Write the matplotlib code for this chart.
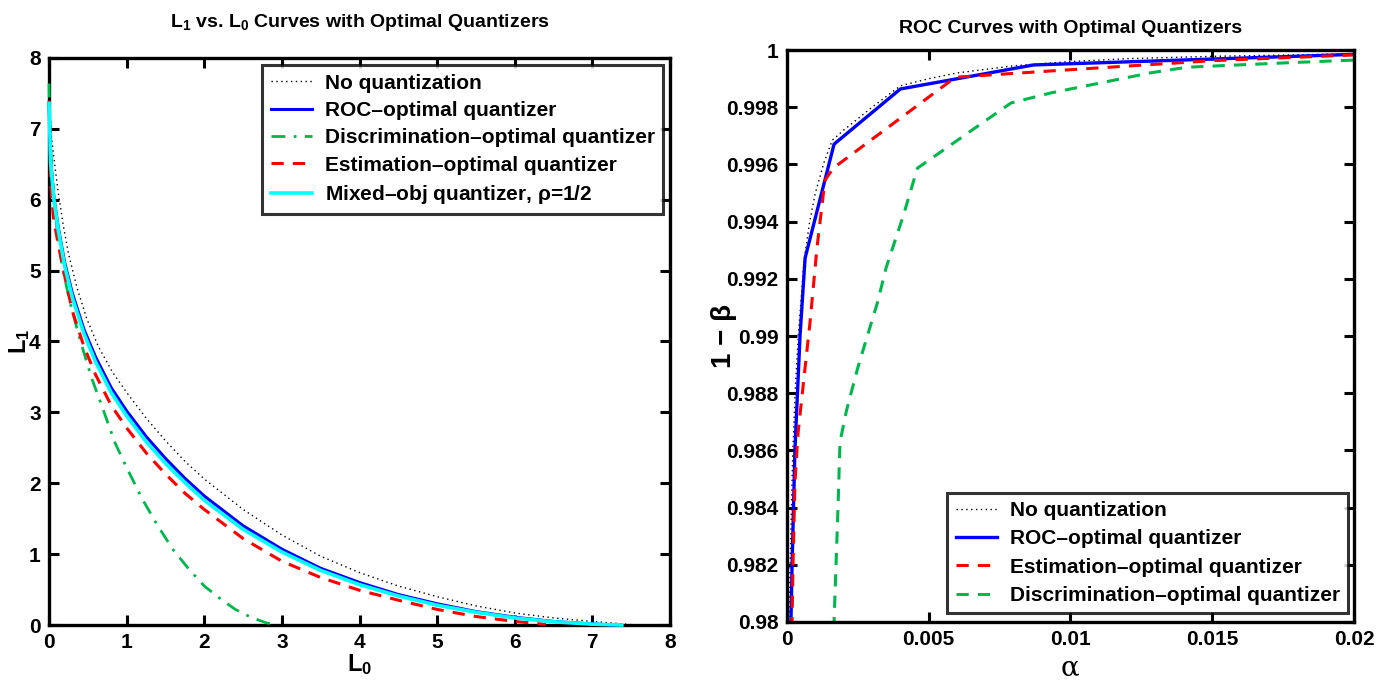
import matplotlib
matplotlib.use("Agg")
import matplotlib.pyplot as plt
from matplotlib import font_manager

# ---------------- data: left panel (L1 vs L0) ----------------
noq_L0 = [0, 0.03, 0.077, 0.12, 0.18, 0.25, 0.357, 0.486, 0.635, 0.81, 1.0, 1.25, 1.5, 1.75,
          2.0, 2.5, 3.0, 3.5, 4.0, 4.5, 5.0, 5.5, 6.0, 6.5, 7.0, 7.3, 7.55]
noq_L1 = [7.45, 6.89, 6.46, 6.09, 5.66, 5.24, 4.77, 4.32, 3.93, 3.58, 3.28, 2.92, 2.60, 2.31,
          2.06, 1.63, 1.27, 0.97, 0.74, 0.55, 0.40, 0.27, 0.17, 0.10, 0.05, 0.025, 0.0]

roc_L0 = [0, 0.02, 0.06, 0.12, 0.2, 0.3, 0.45, 0.6, 0.8, 1.0, 1.25, 1.5, 1.75, 2.0,
          2.5, 3.0, 3.5, 4.0, 4.5, 5.0, 5.5, 6.0, 6.5, 7.0, 7.3]
roc_L1 = [7.36, 6.55, 6.05, 5.60, 5.12, 4.68, 4.17, 3.78, 3.35, 3.02, 2.66, 2.35, 2.07, 1.82,
          1.40, 1.07, 0.80, 0.60, 0.43, 0.30, 0.19, 0.11, 0.05, 0.015, 0.0]

disc_L0 = [0, 0.01, 0.04, 0.1, 0.17, 0.27, 0.4, 0.55, 0.7, 0.85, 1.0, 1.2, 1.4, 1.6,
           1.8, 2.0, 2.2, 2.4, 2.6, 2.8, 2.94]
disc_L1 = [7.64, 7.0, 6.37, 5.60, 5.05, 4.55, 4.02, 3.48, 3.03, 2.57, 2.22, 1.78, 1.40, 1.06,
           0.79, 0.55, 0.376, 0.22, 0.11, 0.03, 0.0]

est_L0 = [0, 0.02, 0.06, 0.12, 0.2, 0.3, 0.45, 0.6, 0.8, 1.0, 1.25, 1.5, 1.75, 2.0,
          2.5, 3.0, 3.5, 4.0, 4.5, 5.0, 5.5, 6.0, 6.4]
est_L1 = [7.4, 6.2, 5.72, 5.36, 4.93, 4.43, 3.93, 3.53, 3.10, 2.78, 2.43, 2.13, 1.86, 1.63,
          1.22, 0.90, 0.67, 0.49, 0.35, 0.22, 0.12, 0.05, 0.01]

mix_L0 = [0, 0.02, 0.06, 0.12, 0.2, 0.3, 0.45, 0.6, 0.8, 1.0, 1.25, 1.5, 1.75, 2.0,
          2.5, 3.0, 3.5, 4.0, 4.5, 5.0, 5.5, 6.0, 6.5, 7.0, 7.38]
mix_L1 = [7.36, 6.53, 6.02, 5.56, 5.07, 4.62, 4.11, 3.71, 3.28, 2.95, 2.59, 2.28, 2.01, 1.76,
          1.35, 1.03, 0.77, 0.57, 0.41, 0.28, 0.18, 0.10, 0.045, 0.012, 0.0]

# ---------------- data: right panel (ROC) ----------------
noq_alpha = [0.00007, 0.0001, 0.0002, 0.0003, 0.0004, 0.0006, 0.0008, 0.001, 0.0013, 0.0016, 0.002,
             0.0025, 0.003, 0.004, 0.005, 0.006, 0.008, 0.01, 0.012, 0.015, 0.02]
noq_pd = [0.9800, 0.9815, 0.9858, 0.9883, 0.9900, 0.9926, 0.9940, 0.9950, 0.99605, 0.99685, 0.9972,
          0.9976, 0.9980, 0.99875, 0.9990, 0.9992, 0.99945, 0.9996, 0.9997, 0.99978, 0.99987]

roc_alpha = [0.00012, 0.00018, 0.00028, 0.00046, 0.00064, 0.00166, 0.0040, 0.0087, 0.02]
roc_pd = [0.979, 0.982, 0.986, 0.990, 0.99273, 0.99671, 0.99864, 0.99948, 0.99985]

est_alpha = [0.00017, 0.00018, 0.00021, 0.00028, 0.00039, 0.00064, 0.00081, 0.00106, 0.00134,
             0.00163, 0.00594, 0.0093, 0.015, 0.02]
est_pd = [0.979, 0.980, 0.9819, 0.98485, 0.9866, 0.98891, 0.99045, 0.9931, 0.99545,
          0.99587, 0.99905, 0.99927, 0.99963, 0.99983]

disc_alpha = [0.00164, 0.00166, 0.0018, 0.00187, 0.0021, 0.0025, 0.0032, 0.0035, 0.0041, 0.0046,
              0.0079, 0.0093, 0.0128, 0.0141, 0.0175, 0.02]
disc_pd = [0.979, 0.980, 0.984, 0.9863, 0.9874, 0.9889, 0.9912, 0.9924, 0.9942, 0.99587,
           0.99815, 0.9985, 0.9992, 0.9994, 0.99955, 0.99965]

left_ticks = [0, 1, 2, 3, 4, 5, 6, 7, 8]
roc_xticks = [0, 0.005, 0.01, 0.015, 0.02]
roc_xticklabels = ["0", "0.005", "0.01", "0.015", "0.02"]
roc_yticks = [0.98, 0.982, 0.984, 0.986, 0.988, 0.99, 0.992, 0.994, 0.996, 0.998, 1.0]
roc_yticklabels = ["0.98", "0.982", "0.984", "0.986", "0.988", "0.99", "0.992", "0.994",
                   "0.996", "0.998", "1"]

# ---------------- fonts ----------------
names = {f.name for f in font_manager.fontManager.ttflist}
fam = "Liberation Sans Narrow" if "Liberation Sans Narrow" in names else "Liberation Sans"
plt.rcParams["font.family"] = [fam, "DejaVu Sans"]
plt.rcParams["font.weight"] = "bold"
plt.rcParams["mathtext.fontset"] = "custom"
plt.rcParams["mathtext.rm"] = fam + ":bold"
plt.rcParams["mathtext.it"] = fam + ":bold"
plt.rcParams["mathtext.bf"] = fam + ":bold"
plt.rcParams["mathtext.default"] = "rm"

BLUE = (0, 0, 1)
RED = (1, 0, 0)
GREEN = (0, 0.72, 0.3)
CYAN = (0, 1, 1)

fig = plt.figure(figsize=(13.78, 6.86), dpi=100)
ax1 = fig.add_axes([0.0356, 0.0889, 0.4506, 0.8266])
ax2 = fig.add_axes([0.5711, 0.0933, 0.4115, 0.8337])


def style_axes(ax):
    for s in ax.spines.values():
        s.set_linewidth(2.4)
    ax.tick_params(direction="in", length=7, width=2.2, top=True, right=True,
                   labelsize=15, pad=6)
    for lab in ax.get_xticklabels() + ax.get_yticklabels():
        lab.set_fontweight("bold")


def style_legend(leg):
    leg.get_frame().set_edgecolor("black")
    leg.get_frame().set_linewidth(2.2)
    for t in leg.get_texts():
        t.set_fontweight("bold")


# ---------------- left panel ----------------
kw = dict(zorder=3, clip_on=False)
ax1.plot(noq_L0, noq_L1, color="black", lw=1.0, ls=(0, (1, 2.5)), label="No quantization", **kw)
ax1.plot(roc_L0, roc_L1, color=BLUE, lw=2.2, label="ROC\u2013optimal quantizer", **kw)
ax1.plot(disc_L0, disc_L1, color=GREEN, lw=2.0, ls=(0, (5, 3, 1, 3)),
         label="Discrimination\u2013optimal quantizer", **kw)
ax1.plot(est_L0, est_L1, color=RED, lw=2.2, ls=(0, (4, 3)), label="Estimation\u2013optimal quantizer", **kw)
ax1.plot(mix_L0, mix_L1, color=CYAN, lw=2.6, label="Mixed\u2013obj quantizer, $\\rho$=1/2", **kw)
ax1.set_xlim(0, 8)
ax1.set_ylim(0, 8)
ax1.set_xticks(left_ticks)
ax1.set_yticks(left_ticks)
style_axes(ax1)
ax1.set_title("L$_1$ vs. L$_0$ Curves with Optimal Quantizers", fontsize=14, fontweight="bold", pad=22)
ax1.set_xlabel("L$_0$", fontsize=17, fontweight="bold", labelpad=0)
ax1.set_ylabel("L$_1$", fontsize=17, fontweight="bold", labelpad=-2)
leg1 = ax1.legend(loc="upper right", bbox_to_anchor=(0.989, 0.987), fontsize=15,
                  frameon=True, fancybox=False, handlelength=2.0, borderpad=0.4,
                  labelspacing=0.4, handletextpad=0.6, borderaxespad=0.0)
style_legend(leg1)

# ---------------- right panel ----------------
ax2.plot(noq_alpha, noq_pd, color="black", lw=1.0, ls=(0, (1, 2.5)), label="No quantization")
ax2.plot(roc_alpha, roc_pd, color=BLUE, lw=2.4, label="ROC\u2013optimal quantizer")
ax2.plot(est_alpha, est_pd, color=RED, lw=2.2, ls=(0, (4, 3)), label="Estimation\u2013optimal quantizer")
ax2.plot(disc_alpha, disc_pd, color=GREEN, lw=2.2, ls=(0, (4, 3)),
         label="Discrimination\u2013optimal quantizer")
ax2.set_xlim(0, 0.02)
ax2.set_ylim(0.98, 1.0)
ax2.set_xticks(roc_xticks)
ax2.set_xticklabels(roc_xticklabels)
ax2.set_yticks(roc_yticks)
ax2.set_yticklabels(roc_yticklabels)
style_axes(ax2)
ax2.set_title("ROC Curves with Optimal Quantizers", fontsize=14, fontweight="bold", pad=12)
ax2.set_xlabel("\u03b1", fontsize=20, fontweight="normal", family="DejaVu Serif", labelpad=4)
ax2.set_ylabel("1 \u2212 \u03b2", fontsize=20, fontweight="bold")
ax2.yaxis.set_label_coords(-0.088, 0.5)
leg2 = ax2.legend(loc="lower right", bbox_to_anchor=(0.99, 0.015), fontsize=15,
                  frameon=True, fancybox=False, handlelength=2.0, borderpad=0.4,
                  labelspacing=0.45, handletextpad=0.6, borderaxespad=0.0)
style_legend(leg2)

fig.savefig("out.png", dpi=100)
